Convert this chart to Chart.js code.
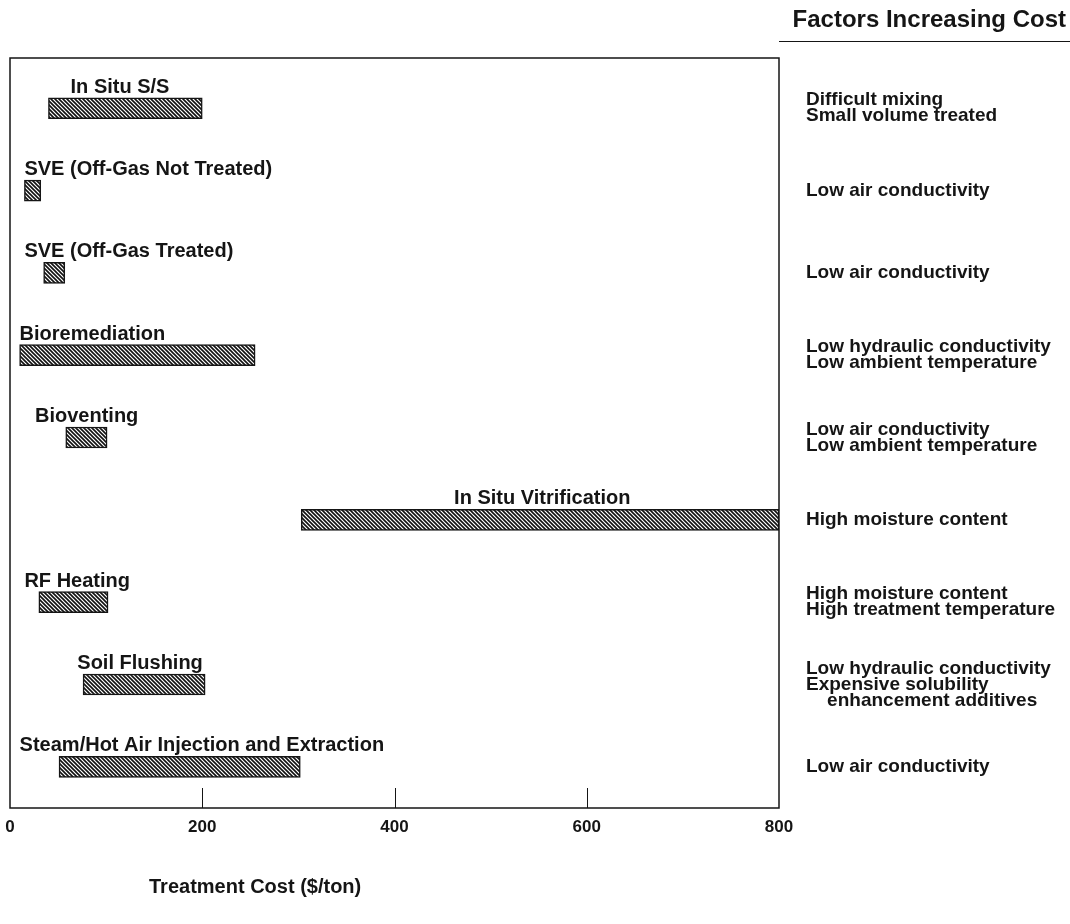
<!DOCTYPE html>
<html>
<head>
<meta charset="utf-8">
<script src="https://cdn.jsdelivr.net/npm/chart.js@4"></script>
<style>
  html, body { margin: 0; padding: 0; background: #fff; }
</style>
</head>
<body>
<canvas id="costChart" width="1070" height="924"></canvas>
<script>
// Treatment cost ranges ($/ton)
const technologies = [
  'In Situ S/S',
  'SVE (Off-Gas Not Treated)',
  'SVE (Off-Gas Treated)',
  'Bioremediation',
  'Bioventing',
  'In Situ Vitrification',
  'RF Heating',
  'Soil Flushing',
  'Steam/Hot Air Injection and Extraction'
];
const costLow  = [40, 15, 35, 10, 58, 303, 30, 76, 51];
const costHigh = [200, 32, 57, 255, 101, 800, 102, 203, 302];
// cost value where each name starts above its bar
const labelStart = [63, 15, 15, 10, 26, 462, 15, 70, 10];
const factors = [
  ['Difficult mixing', 'Small volume treated'],
  ['Low air conductivity'],
  ['Low air conductivity'],
  ['Low hydraulic conductivity', 'Low ambient temperature'],
  ['Low air conductivity', 'Low ambient temperature'],
  ['High moisture content'],
  ['High moisture content', 'High treatment temperature'],
  ['Low hydraulic conductivity', 'Expensive solubility', '    enhancement additives'],
  ['Low air conductivity']
];
const xTicks = [0, 200, 400, 600, 800];
const factorsTitle = 'Factors Increasing Cost';
const axisTitle = 'Treatment Cost ($/ton)';

const FONT = '"Liberation Sans", Arial, sans-serif';
const INK = '#151515';

// diagonal hatch like the printed bars
function makeHatch() {
  const c = document.createElement('canvas');
  c.width = 4; c.height = 4;
  const g = c.getContext('2d');
  g.fillStyle = '#fff';
  g.fillRect(0, 0, 4, 4);
  g.strokeStyle = '#111';
  g.lineWidth = 1.6;
  g.beginPath();
  g.moveTo(-1, -1); g.lineTo(5, 5);
  g.moveTo(-1, 3); g.lineTo(1, 5);
  g.moveTo(3, -1); g.lineTo(5, 1);
  g.stroke();
  return g.createPattern(c, 'repeat');
}

const ctx = document.getElementById('costChart').getContext('2d');
const hatch = makeHatch();

const decorations = {
  id: 'decorations',
  afterDatasetsDraw(chart) {
    const c = chart.ctx;
    const area = chart.chartArea;
    const xs = chart.scales.x;
    const bars = chart.getDatasetMeta(0).data;
    c.save();

    // frame
    c.strokeStyle = INK;
    c.lineWidth = 1.5;
    c.strokeRect(area.left, area.top, area.right - area.left, area.bottom - area.top);

    // inner tick marks
    c.lineWidth = 1;
    xTicks.slice(1, -1).forEach(v => {
      const x = Math.round(xs.getPixelForValue(v)) + 0.5;
      c.beginPath();
      c.moveTo(x, area.bottom);
      c.lineTo(x, area.bottom - 20);
      c.stroke();
    });

    // names above bars
    c.fillStyle = INK;
    c.font = 'bold 20px ' + FONT;
    c.textAlign = 'left';
    c.textBaseline = 'alphabetic';
    bars.forEach((bar, i) => {
      const top = bar.y - bar.height / 2;
      c.fillText(technologies[i], xs.getPixelForValue(labelStart[i]), top - 5);
    });

    // factors on the right
    c.font = 'bold 19px ' + FONT;
    c.textBaseline = 'middle';
    const lh = 16;
    bars.forEach((bar, i) => {
      const lines = factors[i];
      const y0 = bar.y - (lines.length - 1) * lh / 2;
      lines.forEach((t, k) => c.fillText(t, area.right + 27, y0 + k * lh));
    });

    // header with rule
    c.font = 'bold 24px ' + FONT;
    c.textAlign = 'right';
    c.fillText(factorsTitle, chart.width - 4, 20);
    c.lineWidth = 1;
    c.beginPath();
    c.moveTo(area.right, 41.5);
    c.lineTo(chart.width, 41.5);
    c.stroke();

    // axis title
    c.font = 'bold 20px ' + FONT;
    c.textAlign = 'center';
    c.fillText(axisTitle, xs.getPixelForValue(255), 887);
    c.restore();
  }
};

new Chart(ctx, {
  type: 'bar',
  data: {
    datasets: [{
      data: technologies.map((t, i) => ({ y: i, x: [costLow[i], costHigh[i]] })),
      backgroundColor: hatch,
      borderColor: INK,
      borderWidth: 1.5,
      borderSkipped: false,
      barThickness: 21
    }]
  },
  options: {
    indexAxis: 'y',
    responsive: false,
    animation: false,
    layout: { padding: { left: 10, right: 291, top: 58, bottom: 0 } },
    plugins: {
      legend: { display: false },
      tooltip: { enabled: false }
    },
    scales: {
      x: {
        type: 'linear',
        min: 0,
        max: 800,
        afterBuildTicks: scale => { scale.ticks = xTicks.map(v => ({ value: v })); },
        afterFit: scale => { scale.height = 116; },
        grid: { display: false },
        border: { display: false },
        ticks: {
          padding: 1,
          color: INK,
          font: { family: FONT, size: 17, weight: 'bold' }
        }
      },
      y: {
        type: 'linear',
        reverse: true,
        offset: false,
        min: -0.61,
        max: 8.5,
        display: false
      }
    }
  },
  plugins: [decorations]
});
</script>
</body>
</html>
